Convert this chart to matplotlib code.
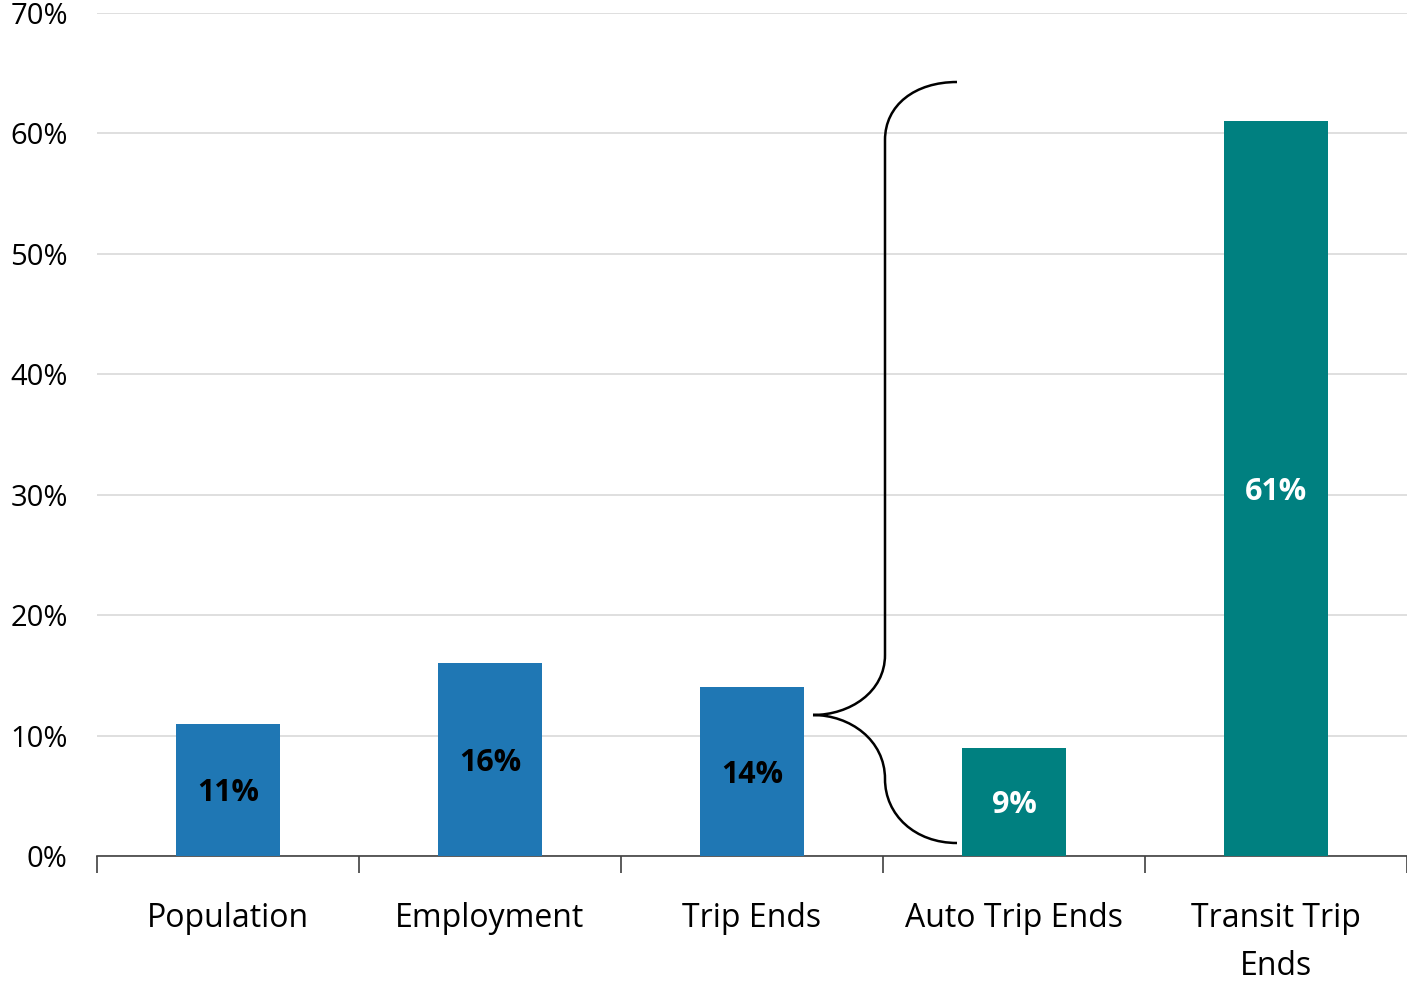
import numpy as np
import matplotlib.pyplot as plt
from matplotlib.path import Path
from matplotlib.patches import PathPatch

# --- data ---
categories = ['Population', 'Employment', 'Trip Ends', 'Auto Trip Ends', 'Transit Trip\nEnds']
values = [11, 16, 14, 9, 61]
bar_colors = ['#1F77B4', '#1F77B4', '#1F77B4', '#008080', '#008080']
label_colors = ['black', 'black', 'black', 'white', 'white']
yticks = [0, 10, 20, 30, 40, 50, 60, 70]

plt.rcParams['font.family'] = ['Open Sans', 'DejaVu Sans']

fig = plt.figure(figsize=(14.07, 9.82), dpi=100)
ax = fig.add_axes([97 / 1407, 1 - 856 / 982, 1 - 97 / 1407, (856 - 13) / 982])

x = np.arange(len(categories))
bars = ax.bar(x, values, width=0.4, color=bar_colors, zorder=3)

# value labels sit in the middle of each bar (nudged a bit down like the original)
for xi, v, c in zip(x, values, label_colors):
    ax.text(xi, v / 2 - 0.3, f'{v}%', ha='center', va='center', color=c,
            fontsize=22, fontweight='bold', zorder=4)

ax.set_xlim(-0.5, len(categories) - 0.5)
ax.set_ylim(0, 70)
ax.set_yticks(yticks)
ax.set_yticklabels([f'{t}%' for t in yticks], fontsize=21)
ax.tick_params(axis='y', length=0, pad=21)

# category labels between boundary ticks
ax.set_xticks(x)
ax.set_xticklabels(categories, fontsize=23, linespacing=1.6)
ax.tick_params(axis='x', which='major', length=0, pad=33)
ax.set_xticks(np.arange(-0.5, len(categories)), minor=True)
ax.tick_params(axis='x', which='minor', length=12, width=1.2, color='#404040')

ax.grid(axis='y', color='#d9d9d9', linewidth=1.2, zorder=0)
for s in ['top', 'right', 'left']:
    ax.spines[s].set_visible(False)
ax.spines['bottom'].set_color('#404040')
ax.spines['bottom'].set_linewidth(1.2)

# --- brace from Trip Ends to the two trip-end splits ---
def px(xp, yp):
    return ((xp - 752) / 262 + 2, (856 - yp) / 120.43 * 10)

pts = [px(957, 82), px(915, 82), px(885, 105), px(885, 140),
       px(885, 655),
       px(885, 692), px(850, 715), px(813, 715),
       px(850, 715), px(885, 740), px(885, 779),
       px(885, 815), px(915, 843), px(957, 843)]
codes = [Path.MOVETO, Path.CURVE4, Path.CURVE4, Path.CURVE4,
         Path.LINETO,
         Path.CURVE4, Path.CURVE4, Path.CURVE4,
         Path.CURVE4, Path.CURVE4, Path.CURVE4,
         Path.CURVE4, Path.CURVE4, Path.CURVE4]
brace = PathPatch(Path(pts, codes), facecolor='none', edgecolor='black',
                  linewidth=1.8, zorder=5, clip_on=False)
ax.add_patch(brace)

fig.savefig('out.png', dpi=100)
